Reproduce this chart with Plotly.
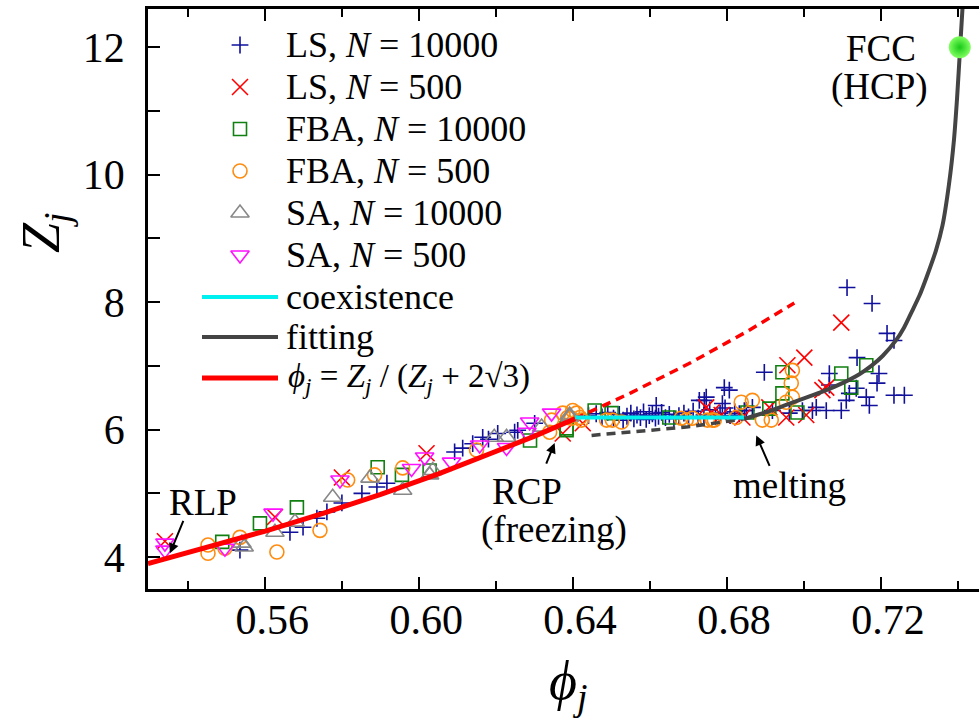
import plotly.graph_objects as go

# ---------------- data ----------------
ls10k_phi = [0.5534, 0.5664, 0.5698, 0.5734, 0.5760, 0.5799, 0.5851, 0.5890, 0.5916,
             0.6092, 0.6113, 0.6139, 0.6165, 0.6180, 0.6204, 0.6248, 0.6256, 0.6300,
             0.6440, 0.6460, 0.6475, 0.6490, 0.6505, 0.6520, 0.6530, 0.6540, 0.6550,
             0.6558, 0.6566, 0.6575, 0.6583, 0.6590, 0.6598, 0.6606, 0.6614, 0.6622,
             0.6630, 0.6640, 0.6650, 0.6662, 0.6675, 0.6688, 0.6700, 0.6712, 0.6725,
             0.6740, 0.6755, 0.6770, 0.6782, 0.6795, 0.6808, 0.6820, 0.6832, 0.6845,
             0.6616, 0.6728, 0.6746, 0.6793, 0.6806, 0.6741, 0.6788, 0.6897,
             0.6850, 0.6866, 0.6918, 0.6962, 0.6996, 0.7022, 0.7032, 0.7058, 0.7066,
             0.7066, 0.7097, 0.7110, 0.7118, 0.7136, 0.7138, 0.7162, 0.7170, 0.7190,
             0.7195, 0.7234, 0.7261, 0.7112, 0.7177, 0.7216, 0.7234]
ls10k_z = [4.11, 4.39, 4.47, 4.61, 4.71, 4.85, 5.00, 5.10, 5.16,
           5.65, 5.71, 5.78, 5.88, 5.85, 5.94, 5.96, 5.99, 6.10,
           6.22, 6.25, 6.20, 6.27, 6.18, 6.24, 6.15, 6.21, 6.26,
           6.17, 6.23, 6.19, 6.28, 6.16, 6.22, 6.25, 6.18, 6.21,
           6.27, 6.19, 6.24, 6.17, 6.22, 6.26, 6.20, 6.29, 6.18,
           6.23, 6.31, 6.21, 6.26, 6.34, 6.22, 6.28, 6.25, 6.30,
           6.38, 6.46, 6.51, 6.66, 6.62, 6.46, 6.41, 6.90,
           6.30, 6.35, 6.30, 6.26, 6.30, 6.30, 6.35, 6.30, 6.70,
           6.88, 6.30, 6.46, 6.57, 6.65, 7.13, 6.51, 6.38, 6.73,
           6.88, 6.54, 6.54, 8.23, 7.98, 7.51, 7.40]

ls500_phi = [0.5339, 0.5625, 0.5799, 0.6019, 0.6373, 0.6425, 0.6746, 0.6760, 0.6786,
             0.6840, 0.6910, 0.6954, 0.6957, 0.7001, 0.7006, 0.7048, 0.7058, 0.7097]
ls500_z = [4.25, 4.63, 5.25, 5.63, 5.94, 6.10, 6.35, 6.27, 6.23,
           6.19, 6.35, 6.19, 7.01, 7.13, 6.23, 6.62, 6.66, 7.68]

fba10k_phi = [0.5488, 0.5586, 0.5682, 0.5892, 0.5955, 0.6027, 0.6288, 0.6383, 0.6383,
              0.6456, 0.6500, 0.6650, 0.6853, 0.6910, 0.6944, 0.6944, 0.6983, 0.7097,
              0.7123, 0.7162]
fba10k_z = [4.24, 4.53, 4.78, 5.41, 5.29, 5.36, 5.83, 6.02, 5.99,
            6.30, 6.26, 6.19, 6.27, 6.33, 6.90, 6.57, 6.27, 6.88,
            6.66, 7.01]

fba500_phi = [0.5451, 0.5451, 0.5495, 0.5534, 0.5630, 0.5742, 0.5814, 0.5884, 0.5957,
              0.6149, 0.6339, 0.6344, 0.6373, 0.6386, 0.6396, 0.6399, 0.6409, 0.6418,
              0.6422, 0.6487, 0.6502, 0.6526, 0.6681, 0.6710, 0.6749, 0.6767, 0.6694,
              0.6762, 0.6824, 0.6837, 0.6866, 0.6892, 0.6915, 0.6954, 0.6970, 0.6967,
              0.6970]
fba500_z = [4.19, 4.06, 4.14, 4.31, 4.08, 4.42, 5.21, 5.29, 5.40,
            5.68, 5.96, 6.15, 6.26, 6.19, 6.18, 6.30, 6.26, 6.19,
            6.15, 6.15, 6.15, 6.12, 6.18, 6.18, 6.15, 6.15, 6.15,
            6.15, 6.19, 6.43, 6.46, 6.15, 6.15, 6.43, 6.51, 6.73,
            6.93]

sa10k_phi = [0.5539, 0.5545, 0.5625, 0.5677, 0.5775, 0.5872, 0.5957, 0.6027, 0.6035,
             0.6195, 0.6227, 0.6318, 0.6391, 0.6391]
sa10k_z = [4.22, 4.16, 4.39, 4.55, 4.94, 5.24, 5.05, 5.29, 5.36,
           5.88, 5.88, 6.04, 6.20, 6.23]

sa500_phi = [0.5339, 0.5339, 0.5495, 0.5620, 0.5794, 0.5980, 0.6014, 0.6084, 0.6157,
             0.6227, 0.6280, 0.6287, 0.6344]
sa500_z = [4.22, 4.11, 4.14, 4.69, 5.21, 5.39, 5.57, 5.49, 5.76,
           5.72, 5.96, 6.12, 6.26]

# theory line phi_j = Z_j/(Z_j + 2*sqrt(3))
rcp_phi = [0.5295, 0.545, 0.56, 0.575, 0.59, 0.605, 0.62, 0.63, 0.6405]
rcp_z = [3.898, 4.149, 4.409, 4.687, 4.985, 5.306, 5.652, 5.898, 6.172]
rcp_ext_phi = [0.6405, 0.655, 0.67, 0.685, 0.6975]
rcp_ext_z = [6.172, 6.577, 7.033, 7.533, 7.988]

coex_phi = [0.6405, 0.6845]
coex_z = [6.19, 6.19]

fit_phi = [0.6845, 0.690, 0.695, 0.700, 0.705, 0.710, 0.7144, 0.7175, 0.7205, 0.7239,
           0.726, 0.7281, 0.730, 0.7318, 0.7343, 0.736, 0.7377, 0.739, 0.7398, 0.7406,
           0.7415]
fit_z = [6.17, 6.27, 6.38, 6.49, 6.60, 6.73, 6.87, 7.00, 7.16, 7.40,
         7.60, 7.86, 8.10, 8.38, 8.81, 9.20, 9.85, 10.55, 11.2, 12.0,
         12.9]
fit_ext_phi = [0.6448, 0.655, 0.665, 0.6694, 0.6788, 0.6845]
fit_ext_z = [5.91, 5.96, 6.02, 6.04, 6.12, 6.17]

fcc_phi = [0.7405]
fcc_z = [12.0]

legend_labels = ["LS, <i>N</i> = 10000", "LS, <i>N</i> = 500",
                 "FBA, <i>N</i> = 10000", "FBA, <i>N</i> = 500",
                 "SA, <i>N</i> = 10000", "SA, <i>N</i> = 500",
                 "coexistence", "fitting",
                 "<i>ϕ</i><sub><i>j</i></sub> = <i>Z</i><sub><i>j</i></sub> / (<i>Z</i><sub><i>j</i></sub> + 2√3)"]

SERIF = "Liberation Serif, Times New Roman, serif"

# figure geometry (px)
W, H = 979, 723
L, R, T, B = 148, 979, 9, 589


def px_x(px):
    return (px - L) / (R - L)


def px_y(py):
    return (B - py) / (B - T)


marker_styles = [
    ("cross-thin-open", "#10109c", 12),
    ("x-thin-open", "#ff0000", 16),
    ("square-open", "#108010", 13),
    ("circle-open", "#ff8c10", 14),
    ("triangle-up-open", "#888888", 16),
    ("triangle-down-open", "#ff10ff", 16),
]
series = [(ls10k_phi, ls10k_z), (ls500_phi, ls500_z), (fba10k_phi, fba10k_z),
          (fba500_phi, fba500_z), (sa10k_phi, sa10k_z), (sa500_phi, sa500_z)]

fig = go.Figure()

for (xs, ys), (sym, col, sz), lab in zip(series, marker_styles, legend_labels[:6]):
    fig.add_trace(go.Scatter(
        x=xs, y=ys, mode="markers", name=lab, showlegend=False,
        marker=dict(symbol=sym, size=sz, color=col, line=dict(color=col, width=1.6))))

line_styles = [("#00f0f0", 4), ("#444444", 4), ("#ff0000", 5)]

# lines
fig.add_trace(go.Scatter(x=rcp_ext_phi, y=rcp_ext_z, mode="lines", showlegend=False,
                         line=dict(color="#ff0000", width=3.5, dash="9px,6px")))
fig.add_trace(go.Scatter(x=fit_ext_phi, y=fit_ext_z, mode="lines", showlegend=False,
                         line=dict(color="#444444", width=3.5, dash="9px,6px")))
fig.add_trace(go.Scatter(x=coex_phi, y=coex_z, mode="lines", name=legend_labels[6],
                         showlegend=False, line=dict(color=line_styles[0][0], width=line_styles[0][1])))
fig.add_trace(go.Scatter(x=fit_phi, y=fit_z, mode="lines", name=legend_labels[7],
                         showlegend=False,
                         line=dict(color=line_styles[1][0], width=line_styles[1][1],
                                   shape="spline", smoothing=0.7)))
fig.add_trace(go.Scatter(x=rcp_phi, y=rcp_z, mode="lines", name=legend_labels[8],
                         showlegend=False, line=dict(color=line_styles[2][0], width=line_styles[2][1])))
fig.add_trace(go.Scatter(x=fcc_phi, y=fcc_z, mode="markers", showlegend=False,
                         marker=dict(symbol="circle", size=22, color="#80ff60",
                                     gradient=dict(type="radial", color="#18c818"),
                                     line=dict(width=0))))

# ---------- legend drawn on an overlay axis in plot-fraction coordinates ----------
row_y = [45, 87, 129, 171, 213, 255, 297, 337, 378]
for i, (sym, col, sz) in enumerate(marker_styles):
    fig.add_trace(go.Scatter(
        x=[px_x(240)], y=[px_y(row_y[i])], xaxis="x2", yaxis="y2", mode="markers",
        showlegend=False, hoverinfo="skip",
        marker=dict(symbol=sym, size=sz, color=col, line=dict(color=col, width=1.6))))
for j, (col, wd) in enumerate(line_styles):
    yy = px_y(row_y[6 + j])
    fig.add_trace(go.Scatter(
        x=[px_x(202), px_x(278)], y=[yy, yy], xaxis="x2", yaxis="y2", mode="lines",
        showlegend=False, hoverinfo="skip", line=dict(color=col, width=wd)))

ann_font = dict(family=SERIF, size=37, color="black")
annotations = []
for i, lab in enumerate(legend_labels):
    annotations.append(dict(xref="paper", yref="paper", x=px_x(286 if i == 8 else 284),
                            y=px_y(row_y[i]),
                            xanchor="left", yanchor="middle", text=lab, showarrow=False,
                            font=dict(family=SERIF, size=33 if i == 8 else 36, color="black")))

annotations += [
    dict(x=0.5438, y=4.85, text="RLP", showarrow=False, font=ann_font),
    dict(x=0.6279, y=5.03, text="RCP", showarrow=False, font=ann_font),
    dict(x=0.6349, y=4.43, text="(freezing)", showarrow=False, font=ann_font),
    dict(x=0.6962, y=5.13, text="melting", showarrow=False, font=ann_font),
    dict(x=0.7201, y=11.98, text="FCC", showarrow=False, font=ann_font),
    dict(x=0.7196, y=11.38, text="(HCP)", showarrow=False, font=ann_font),
    # arrows
    dict(x=0.5352, y=4.06, ax=14, ay=-34, text="", showarrow=True, arrowhead=2,
         arrowsize=1, arrowwidth=2, arrowcolor="black"),
    dict(x=0.6352, y=5.79, ax=-9, ay=22, text="", showarrow=True, arrowhead=2,
         arrowsize=1, arrowwidth=2, arrowcolor="black"),
    dict(x=0.6876, y=5.91, ax=14, ay=32, text="", showarrow=True, arrowhead=2,
         arrowsize=1, arrowwidth=2, arrowcolor="black"),
    # axis titles
    dict(xref="paper", yref="paper", x=px_x(568), y=px_y(684), xanchor="center",
         yanchor="middle", text="<i>ϕ</i><sub><i>j</i></sub>", showarrow=False,
         font=dict(family=SERIF, size=54, color="black")),
    dict(xref="paper", yref="paper", x=px_x(44), y=px_y(232), xanchor="center",
         yanchor="middle", text="<i>Z</i><sub><i>j</i></sub>", showarrow=False,
         textangle=-90, font=dict(family=SERIF, size=54, color="black")),
]

fig.update_layout(
    width=W, height=H,
    margin=dict(l=L, r=W - R, t=T, b=H - B),
    plot_bgcolor="white", paper_bgcolor="white",
    font=dict(family=SERIF, color="black"),
    showlegend=False,
    annotations=annotations,
    xaxis2=dict(overlaying="x", range=[0, 1], visible=False, fixedrange=True),
    yaxis2=dict(overlaying="y", range=[0, 1], visible=False, fixedrange=True),
)

fig.update_layout(xaxis=dict(
    range=[0.5295, 0.7455], tick0=0.56, dtick=0.04, tickformat=".2f",
    ticks="inside", ticklen=12, tickwidth=2, tickcolor="black",
    showline=True, linewidth=2.5, linecolor="black", mirror="allticks",
    showgrid=False, zeroline=False,
    tickfont=dict(family=SERIF, size=42, color="black"),
    ticklabelstandoff=-8, ticklabelshift=7,
    minor=dict(dtick=0.02, tick0=0.54, ticks="inside", ticklen=8, tickwidth=2,
               tickcolor="black", showgrid=False),
))
fig.update_layout(yaxis=dict(
    range=[3.5, 12.6], tick0=4, dtick=2,
    ticks="inside", ticklen=12, tickwidth=2, tickcolor="black",
    showline=True, linewidth=2.5, linecolor="black", mirror=False,
    showgrid=False, zeroline=False,
    tickfont=dict(family=SERIF, size=42, color="black"),
    ticklabelstandoff=12,
    minor=dict(dtick=1, tick0=4, ticks="inside", ticklen=12, tickwidth=2,
               tickcolor="black", showgrid=False),
))

fig.write_html("out.html")
